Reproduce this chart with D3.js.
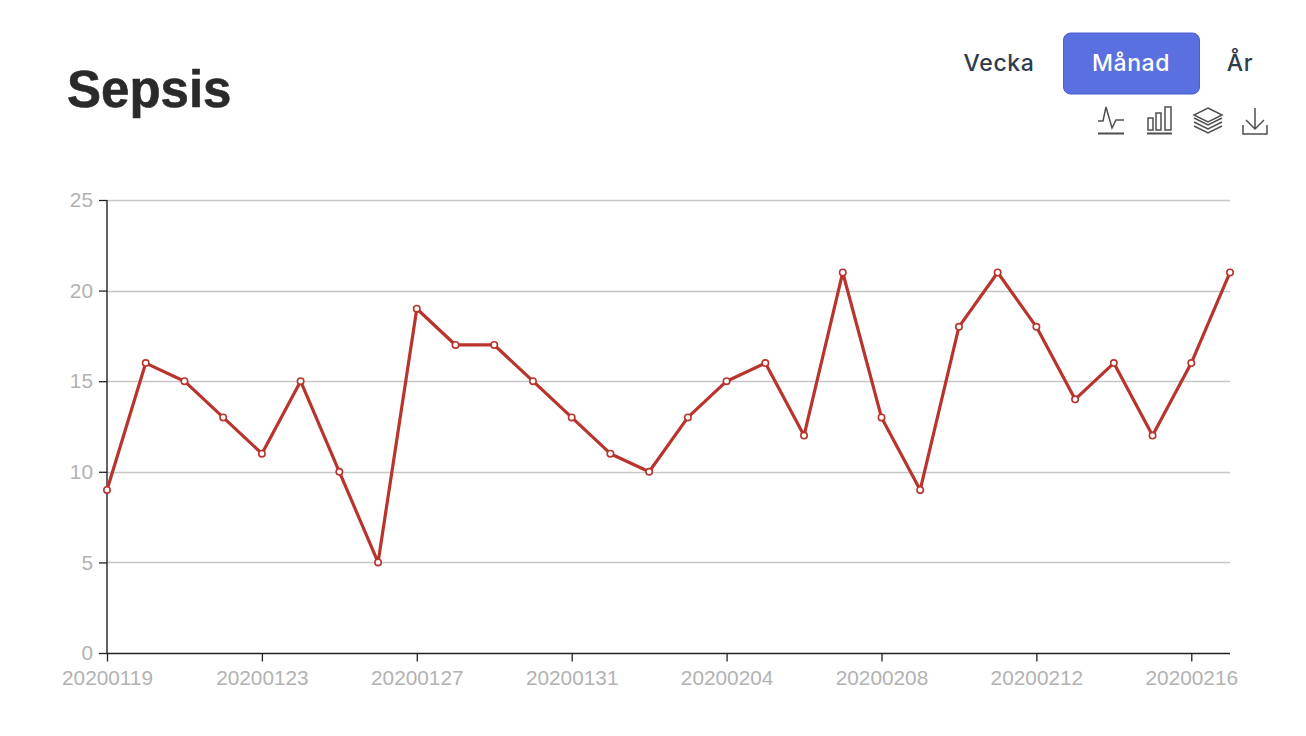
<!DOCTYPE html>
<html><head><meta charset="utf-8">
<script src="https://cdn.jsdelivr.net/npm/d3@7/dist/d3.min.js"></script>
<style>
html,body{margin:0;padding:0;background:#fff}
svg{display:block}
</style></head><body>
<svg id="c" width="1306" height="736"></svg>
<script>
const dates=["20200119","20200120","20200121","20200122","20200123","20200124","20200125","20200126","20200127","20200128","20200129","20200130","20200131","20200201","20200202","20200203","20200204","20200205","20200206","20200207","20200208","20200209","20200210","20200211","20200212","20200213","20200214","20200215","20200216","20200217"];
const values=[9,16,15,13,11,15,10,5,19,17,17,15,13,11,10,13,15,16,12,21,13,9,18,21,18,14,16,12,16,21];
const yTicks=[0,5,10,15,20,25];
const xLabels=["20200119","20200123","20200127","20200131","20200204","20200208","20200212","20200216"];
const title="Sepsis";
const periods=["Vecka","Månad","År"];

const svg=d3.select("#c");
const defs=svg.append("defs");
defs.append("filter").attr("id","soft").append("feGaussianBlur").attr("stdDeviation",0.7);
const x=d3.scalePoint().domain(dates).range([107,1230]);
const y=d3.scaleLinear().domain([0,25]).range([653,200]);
const axisFont="Helvetica, Arial, 'Liberation Sans', sans-serif";

// grid
svg.append("g").selectAll("line").data(yTicks.filter(d=>d>0)).join("line")
  .attr("x1",107).attr("x2",1230).attr("y1",d=>Math.round(y(d))+.5).attr("y2",d=>Math.round(y(d))+.5)
  .attr("stroke","#c6c6c6").attr("stroke-width",1.6);

// axes
const ax=svg.append("g").attr("transform","translate(0,653.5)")
  .call(d3.axisBottom(x).tickValues(xLabels).tickSize(8).tickPadding(8.5));
const ay=svg.append("g").attr("transform","translate(107,0)")
  .call(d3.axisLeft(y).tickValues(yTicks).tickSize(8).tickPadding(6));
[ax,ay].forEach(g=>{
  g.selectAll("path").attr("stroke","#222").attr("stroke-width",1.4);
  g.selectAll("line").attr("stroke","#222").attr("stroke-width",1.3);
  g.selectAll("text").attr("fill","#b2b2b2").style("font-family",axisFont).style("font-size","20.8px");
});
ax.select("path").attr("d","M107,0H1230");
ax.selectAll("text").attr("dy","0.71em");
ay.select("path").attr("d","M0,200V653");

// line
const line=d3.line().x((d,i)=>x(dates[i])).y(d=>y(d));
svg.append("path").datum(values).attr("d",line).attr("fill","none")
  .attr("stroke","#b8342c").attr("stroke-width",3.2).attr("stroke-linejoin","round");
svg.append("g").selectAll("circle").data(values).join("circle")
  .attr("cx",(d,i)=>x(dates[i])).attr("cy",d=>y(d)).attr("r",3.2)
  .attr("fill","#fff").attr("stroke","#b8342c").attr("stroke-width",1.6);

// title
svg.append("text").attr("x",67).attr("y",107).text(title)
  .attr("font-family",axisFont).attr("font-size",51).attr("font-weight",700)
  .attr("fill","#2b2b2b").attr("stroke","#2b2b2b").attr("stroke-width",.6)
  .attr("filter","url(#soft)");

// buttons
svg.append("rect").attr("x",1063.5).attr("y",33).attr("width",136).attr("height",61).attr("rx",7)
  .attr("fill","#5a6fe0").attr("stroke","#4a5fd0");
const btnX=[999,1131,1240];
svg.append("g").selectAll("text").data(periods).join("text")
  .attr("x",(d,i)=>btnX[i]).attr("y",71).attr("text-anchor","middle").text(d=>d)
  .attr("font-family","Inter, 'Open Sans', sans-serif").attr("font-size",23).attr("font-weight",500)
  .attr("letter-spacing",0.6)
  .attr("fill",(d,i)=>i===1?"#fff":"#2f3a4a");

// toolbox icons
const ic=svg.append("g").attr("fill","none").attr("stroke","#4f4f4f").attr("stroke-width",1.5);
ic.append("path").attr("d","M1098,121H1103L1106,107L1112,128L1116,120H1124");
ic.append("path").attr("d","M1148,118h5v12h-5zM1156,113h5v17h-5zM1165,107h6v23h-6z");
ic.append("path").attr("d","M1208,108L1222,115L1208,122L1194,115ZM1194,118L1208,125L1222,118M1194,122L1208,129L1222,122M1194,126L1208,133L1222,126");
ic.append("path").attr("d","M1255,108V129M1246,120L1255,129L1264,120M1243,125V134H1267V125");
ic.append("path").attr("d","M1098,133.5H1124M1147,133.5H1172").attr("stroke-width",2);
</script>
</body></html>
